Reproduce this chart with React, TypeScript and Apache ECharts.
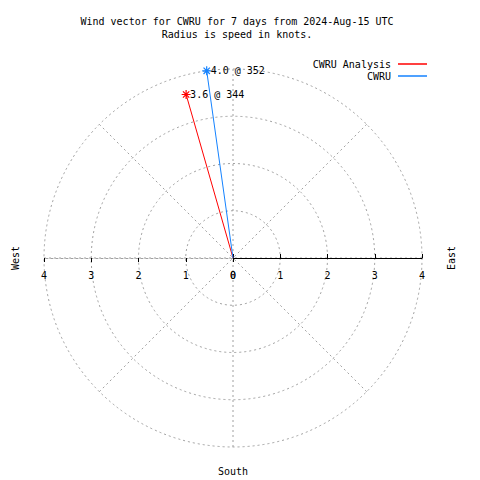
import React, { useEffect, useRef } from "react";
import * as echarts from "echarts";

const titleLines = ["Wind vector for CWRU for 7 days from 2024-Aug-15 UTC", "Radius is speed in knots."];
const seriesNames = ["CWRU Analysis", "CWRU"];
const speeds = [3.6, 4.0];
const directions = [344, 352];
const seriesColors = ["#ff0000", "#1482ff"];
const radiusTicks = [0, 1, 2, 3, 4];
const compassLabels = ["West", "East", "South"];

const FONT = "DejaVu Sans Mono";
const CX = 233;
const CY = 258;
const R = 189;
const STAR = "path://M0,5 L10,5 M5,0 L5,10 M1.5,1.5 L8.5,8.5 M8.5,1.5 L1.5,8.5";

export default function App() {
  const ref = useRef<HTMLDivElement>(null);
  useEffect(() => {
    document.body.style.margin = "0";
    const chart = echarts.init(ref.current!, null, { renderer: "svg" });
    const rMax = radiusTicks[radiusTicks.length - 1];
    const polarCommon = { center: [CX, CY], radius: R };
    const gray = "#a0a0a0";
    const baseRadius = (extra: any) => ({
      type: "value",
      min: 0,
      max: rMax,
      interval: 1,
      ...extra,
    });
    const hiddenAngle = (polarIndex: number, startAngle: number) => ({
      polarIndex,
      type: "value",
      min: 0,
      max: 360,
      startAngle,
      show: false,
    });
    chart.setOption({
      animation: false,
      backgroundColor: "#fff",
      title: {
        text: titleLines.join("\n"),
        left: 232,
        top: 10,
        textAlign: "center",
        textStyle: { fontFamily: FONT, fontSize: 10, fontWeight: "normal", color: "#000", lineHeight: 13 },
      },
      legend: {
        orient: "vertical",
        right: 48,
        top: 54,
        align: "right",
        itemGap: 2,
        itemWidth: 29,
        itemHeight: 1.5,
        icon: "rect",
        textStyle: { fontFamily: FONT, fontSize: 10, color: "#000", padding: [0, 2, 0, 0] },
        data: seriesNames.map((name, i) => ({
          name,
          itemStyle: { color: seriesColors[i], borderWidth: 0 },
        })),
      },
      polar: [polarCommon, polarCommon, polarCommon, polarCommon, polarCommon],
      angleAxis: [
        {
          polarIndex: 0,
          type: "value",
          min: 0,
          max: 360,
          interval: 45,
          startAngle: 90,
          clockwise: true,
          axisLine: { show: false },
          axisTick: { show: false },
          axisLabel: { show: false },
          splitLine: { show: true, lineStyle: { color: gray, type: [2, 3], width: 1 } },
        },
        hiddenAngle(1, 0),
        hiddenAngle(2, 0),
        hiddenAngle(3, 180),
        hiddenAngle(4, 180),
      ],
      radiusAxis: [
        baseRadius({
          polarIndex: 0,
          axisLine: { show: false },
          axisTick: { show: false },
          axisLabel: { show: false },
          splitLine: { show: true, lineStyle: { color: gray, type: [2, 3], width: 1 } },
        }),
        baseRadius({
          polarIndex: 1,
          axisLine: { show: true, lineStyle: { color: "#000", width: 1 } },
          axisTick: { show: true, length: 4, lineStyle: { color: "#000" } },
          axisLabel: { color: "#000", fontFamily: FONT, fontSize: 10, margin: -17, verticalAlign: "middle" },
          splitLine: { show: false },
        }),
        baseRadius({
          polarIndex: 2,
          axisLine: { show: false },
          axisTick: { show: true, inside: true, length: 4, lineStyle: { color: "#000" } },
          axisLabel: { show: false },
          splitLine: { show: false },
        }),
        baseRadius({
          polarIndex: 3,
          axisLine: { show: true, lineStyle: { color: gray, width: 1, type: [2, 3] } },
          axisTick: { show: true, length: 4, lineStyle: { color: "#000" } },
          axisLabel: { color: "#000", fontFamily: FONT, fontSize: 10, margin: 17, verticalAlign: "middle" },
          splitLine: { show: false },
        }),
        baseRadius({
          polarIndex: 4,
          axisLine: { show: false },
          axisTick: { show: true, inside: true, length: 4, lineStyle: { color: "#000" } },
          axisLabel: { show: false },
          splitLine: { show: false },
        }),
      ],
      series: seriesNames.map((name, i) => ({
        name,
        type: "line",
        coordinateSystem: "polar",
        polarIndex: 0,
        clip: false,
        color: seriesColors[i],
        lineStyle: { color: seriesColors[i], width: 1 },
        symbol: STAR,
        symbolSize: 9,
        showAllSymbol: true,
        itemStyle: { color: "none", borderColor: seriesColors[i], borderWidth: 1.2 },
        data: [
          { value: [0, directions[i]], symbol: "none", label: { show: false } },
          {
            value: [speeds[i], directions[i]],
            label: {
              show: true,
              position: "right",
              distance: -3,
              formatter: `${speeds[i].toFixed(1)} @ ${directions[i]}`,
              fontFamily: FONT,
              fontSize: 10,
              color: "#000",
            },
          },
        ],
      })),
      graphic: [
        { type: "text", x: 15, y: 258, rotation: Math.PI / 2, style: { text: compassLabels[0], font: `10px ${FONT}`, fill: "#000", align: "center", verticalAlign: "middle" } },
        { type: "text", x: 451, y: 258, rotation: Math.PI / 2, style: { text: compassLabels[1], font: `10px ${FONT}`, fill: "#000", align: "center", verticalAlign: "middle" } },
        { type: "text", x: 233, y: 471, style: { text: compassLabels[2], font: `10px ${FONT}`, fill: "#000", align: "center", verticalAlign: "middle" } },
      ],
    });
    return () => chart.dispose();
  }, []);
  return <div ref={ref} style={{ width: 480, height: 480 }} />;
}
